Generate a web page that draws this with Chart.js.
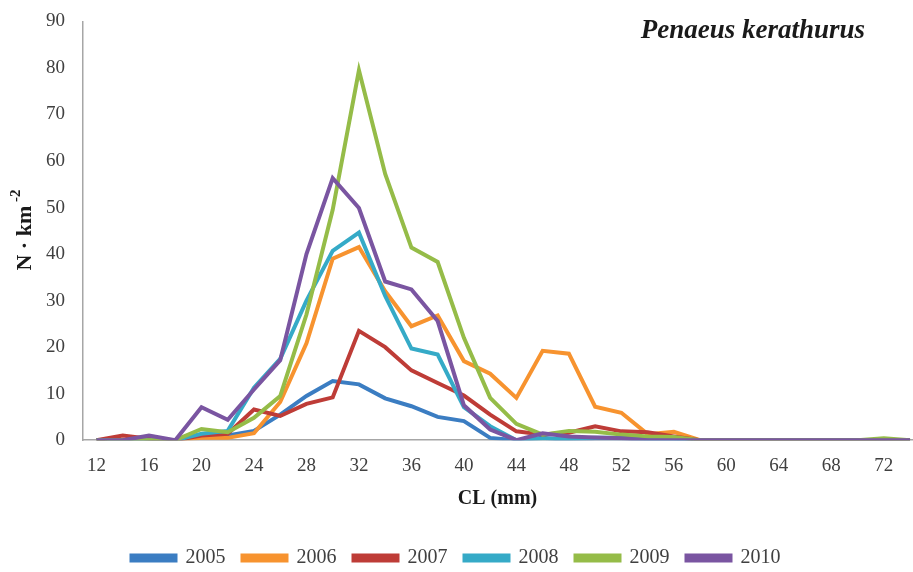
<!DOCTYPE html>
<html>
<head>
<meta charset="utf-8">
<script src="https://cdn.jsdelivr.net/npm/chart.js@4.4.0/dist/chart.umd.min.js"></script>
<style>
  html, body { margin: 0; padding: 0; background: #fff; }
  #wrap { width: 913px; height: 572px; }
</style>
</head>
<body>
<div id="wrap"><canvas id="chart"></canvas></div>
<script>
// DATOS
const sizes = [12, 14, 16, 18, 20, 22, 24, 26, 28, 30, 32, 34, 36, 38, 40, 42,
               44, 46, 48, 50, 52, 54, 56, 58, 60, 62, 64, 66, 68, 70, 72, 74];
const xTicks = [12, 16, 20, 24, 28, 32, 36, 40, 44, 48, 52, 56, 60, 64, 68, 72];
const years = ['2005', '2006', '2007', '2008', '2009', '2010'];

const y2005 = [0, 0, 0, 0, 1, 1, 2, 5.5, 9.5, 12.7, 12, 9, 7.3, 5, 4.1, 0.5,
               0, 0.5, 0, 0.3, 0.3, 0.2, 0, 0, 0, 0, 0, 0, 0, 0, 0, 0];
const y2006 = [0, 0, 0, 0, 0.5, 0.5, 1.5, 8.2, 20.8, 39, 41.5, 32, 24.5, 26.8, 17, 14.3,
               9.1, 19.2, 18.6, 7.2, 5.9, 1.3, 1.8, 0, 0, 0, 0, 0, 0, 0, 0, 0];
const y2007 = [0, 1, 0.3, 0, 1, 1.4, 6.6, 5.2, 7.8, 9.2, 23.5, 20, 15, 12.3, 9.6, 5.5,
               1.9, 1.2, 1.6, 3, 1.9, 1.7, 0.8, 0, 0, 0, 0, 0, 0, 0, 0, 0];
const y2008 = [0, 0, 0, 0, 1.4, 2, 11.3, 17.5, 30, 40.7, 44.6, 31, 19.7, 18.4, 7.1, 3,
               0, 0.3, 0.3, 0.5, 0.5, 0.3, 0.3, 0, 0, 0, 0, 0, 0, 0, 0, 0];
const y2009 = [0, 0, 0, 0, 2.4, 1.7, 4.8, 9.5, 27, 49.5, 79.5, 57.2, 41.4, 38.3, 22, 9.1,
               3.5, 1.2, 2, 1.8, 1.2, 0.8, 0.7, 0, 0, 0, 0, 0, 0, 0, 0.4, 0];
const y2010 = [0, 0, 1, 0, 7.1, 4.4, 10.9, 17.2, 40, 56.3, 49.9, 34.1, 32.4, 25.6, 7.5, 2.3,
               0, 1.5, 0.8, 0.6, 0.4, 0, 0, 0, 0, 0, 0, 0, 0, 0, 0, 0];

const series = [y2005, y2006, y2007, y2008, y2009, y2010];
const colors = ['#3b7dc2', '#f7932f', '#be3c37', '#35aac7', '#95bc48', '#7a55a1'];

const SERIF = "'Liberation Serif', 'DejaVu Serif', serif";

// TITULOS DIBUJADOS A MANO
const titlesPlugin = {
    id: 'titles',
    afterDraw(chart) {
        const ctx = chart.ctx;
        ctx.save();
        ctx.fillStyle = '#1a1a1a';
        ctx.font = "bold italic 27px " + SERIF;
        ctx.textAlign = 'right';
        ctx.textBaseline = 'alphabetic';
        ctx.fillText('Penaeus kerathurus', 865, 38);

        // eje Y: N · km-2
        ctx.translate(25, 230);
        ctx.rotate(-Math.PI / 2);
        ctx.textAlign = 'left';
        ctx.textBaseline = 'middle';
        const main = 'N · km';
        ctx.font = "bold 22px " + SERIF;
        const w1 = ctx.measureText(main).width;
        ctx.font = "bold 15px " + SERIF;
        const w2 = ctx.measureText(' -2').width;
        const x0 = -(w1 + w2) / 2;
        ctx.font = "bold 22px " + SERIF;
        ctx.fillText(main, x0, 0);
        ctx.font = "bold 15px " + SERIF;
        ctx.fillText(' -2', x0 + w1, -9);
        ctx.restore();
    }
};

const datasets = years.map((yr, i) => ({
    label: yr,
    data: sizes.map((s, j) => ({ x: s, y: series[i][j] })),
    borderColor: colors[i],
    backgroundColor: colors[i],
    borderWidth: 4,
    pointRadius: 0,
    tension: 0,
    order: years.length - i
}));

new Chart(document.getElementById('chart'), {
    type: 'line',
    data: { datasets: datasets },
    options: {
        responsive: true,
        maintainAspectRatio: false,
        animation: false,
        layout: { padding: { left: 0, right: 1, top: 2, bottom: -6 } },
        scales: {
            x: {
                type: 'linear',
                min: 10.97,
                max: 74.15,
                afterBuildTicks: (s) => { s.ticks = xTicks.map(v => ({ value: v })); },
                grid: { display: false },
                border: { color: '#a6a6a6', width: 1.5 },
                ticks: {
                    autoSkip: false,
                    maxRotation: 0,
                    padding: 6,
                    color: '#404040',
                    font: { family: SERIF, size: 19 }
                },
                title: {
                    display: true,
                    text: 'CL (mm)',
                    color: '#1a1a1a',
                    font: { family: SERIF, size: 20, weight: 'bold' },
                    padding: { top: 4, bottom: 20 }
                }
            },
            y: {
                min: 0,
                max: 90,
                afterFit: (s) => { s.width = 83; },
                grid: { display: false },
                border: { color: '#a6a6a6', width: 1.5 },
                ticks: {
                    stepSize: 10,
                    padding: 10,
                    color: '#404040',
                    font: { family: SERIF, size: 19 }
                }
            }
        },
        plugins: {
            legend: {
                position: 'bottom',
                labels: {
                    boxWidth: 44,
                    boxHeight: 5,
                    padding: 17,
                    color: '#404040',
                    font: { family: SERIF, size: 20 },
                    sort: (a, b) => a.datasetIndex - b.datasetIndex
                }
            },
            tooltip: { enabled: false }
        }
    },
    plugins: [titlesPlugin]
});
</script>
</body>
</html>
